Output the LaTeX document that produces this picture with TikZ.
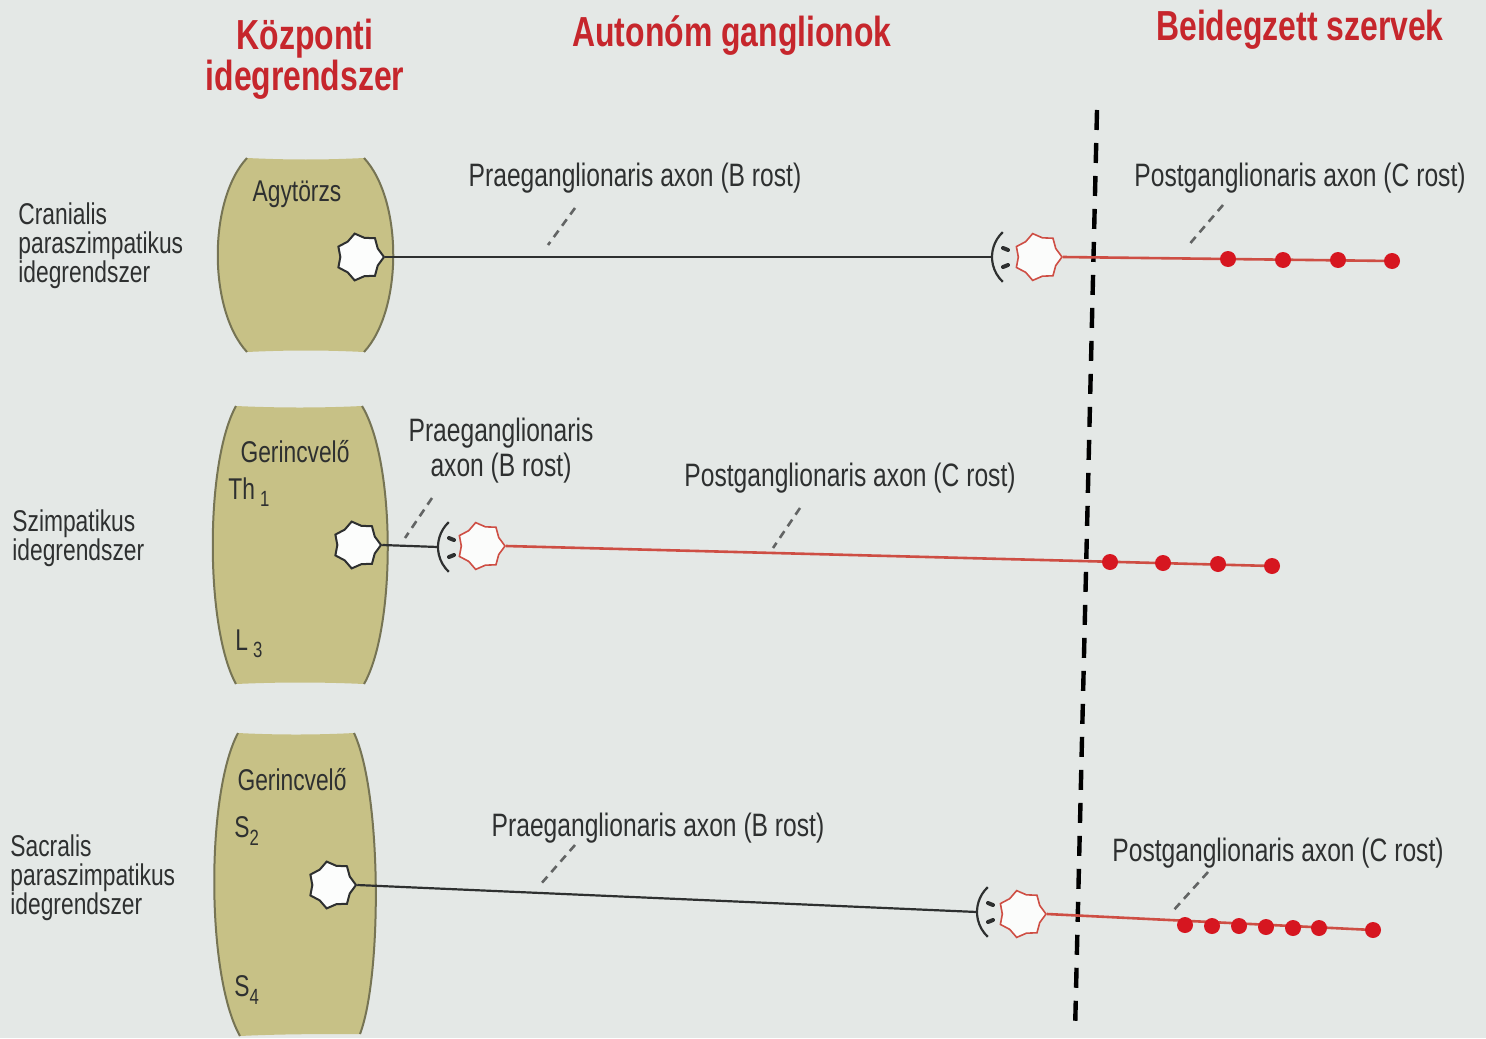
\documentclass[tikz,border=0pt]{standalone}
\usepackage{fontspec}
\setmainfont{Liberation Sans}[FakeStretch=0.76]
\usepackage{xcolor}
\definecolor{pagebg}{RGB}{228,232,230}
\definecolor{cnsfill}{RGB}{199,193,134}
\definecolor{cnsedge}{RGB}{118,116,84}
\definecolor{headred}{RGB}{198,38,44}
\definecolor{axonred}{RGB}{206,78,68}
\definecolor{dotred}{RGB}{214,22,32}
\definecolor{inkgray}{RGB}{46,48,48}
\usetikzlibrary{shapes.geometric, calc}

\begin{document}
\begin{tikzpicture}[x=0.5pt, y=-0.5pt,
  head/.style={text=headred, font=\fontsize{21}{19}\selectfont\bfseries, align=center, inner sep=0pt},
  lbl/.style={text=inkgray, font=\fontsize{16.2}{17.5}\selectfont, align=center, inner sep=0pt},
  side/.style={text=inkgray, font=\fontsize{15}{14.5}\selectfont, align=left, anchor=west, inner sep=0pt},
  cnslbl/.style={text=inkgray, font=\fontsize{15}{15}\selectfont, inner sep=0pt},
  seg/.style={cnslbl, anchor=west},
  precell/.style={star, star points=7, star point ratio=1.22, shape border rotate=-90,
                  minimum size=24pt, inner sep=0pt, draw=inkgray, fill=white!90!pagebg, line width=1pt},
  postcell/.style={precell, draw=axonred, line width=0.8pt, fill=white!85!pagebg},
  preaxon/.style={draw=inkgray, line width=1.1pt},
  postaxon/.style={draw=axonred, line width=1.3pt},
  bouton/.style={draw=inkgray, line width=2pt, line cap=round},
  dot/.style={circle, fill=dotred, minimum size=8pt, inner sep=0pt},
  leader/.style={draw=inkgray!75, line width=1.3pt, dash pattern=on 4pt off 3pt},
  divider/.style={draw=black, line width=2.2pt, dash pattern=on 10pt off 6.5pt},
  cnsside/.style={draw=cnsedge, line width=1pt}
]
\useasboundingbox (0,0) rectangle (1486,1038);
\fill[pagebg] (0,0) rectangle (1486,1038);

% --- column headings ---
\node[head] (hcns) at (305,59) {Központi\\idegrendszer};
\node[head] (hgang) at (732,36) {Autonóm ganglionok};
\node[head] (horg) at (1300,30) {Beidegzett szervek};

% --- central nervous system blocks ---
\fill[cnsfill] (247,158) .. controls (208,200) and (208,310) .. (247,352)
  .. controls (290,350) and (322,350) .. (364,352)
  .. controls (403,310) and (403,200) .. (364,158)
  .. controls (322,160) and (290,160) .. cycle;
\draw[cnsside] (247,158) .. controls (208,200) and (208,310) .. (247,352);
\draw[cnsside] (364,352) .. controls (403,310) and (403,200) .. (364,158);

\fill[cnsfill] (236,406) .. controls (205,462) and (205,628) .. (236,684)
  .. controls (280,682) and (320,682) .. (364,684)
  .. controls (396,628) and (396,462) .. (362,406)
  .. controls (320,408) and (280,408) .. cycle;
\draw[cnsside] (236,406) .. controls (205,462) and (205,628) .. (236,684);
\draw[cnsside] (364,684) .. controls (396,628) and (396,462) .. (362,406);

\fill[cnsfill] (238,733) .. controls (206,793) and (206,976) .. (240,1036)
  .. controls (280,1034) and (320,1034) .. (360,1034)
  .. controls (382,976) and (382,793) .. (354,733)
  .. controls (315,735) and (277,735) .. cycle;
\draw[cnsside] (238,733) .. controls (206,793) and (206,976) .. (240,1036);
\draw[cnsside] (360,1034) .. controls (382,976) and (382,793) .. (354,733);

\node[cnslbl] (agy) at (297,194) {Agytörzs};
\node[cnslbl] (ger1) at (295,452) {Gerincvelő};
\node[seg] (th1) at (228,492) {Th\,\raisebox{-0.45ex}{\fontsize{11}{11}\selectfont 1}};
\node[seg] (l3) at (235,644) {L\,\raisebox{-0.45ex}{\fontsize{11}{11}\selectfont 3}};
\node[cnslbl] (ger2) at (292,780) {Gerincvelő};
\node[seg] (s2) at (234,831) {S\raisebox{-0.45ex}{\fontsize{11}{11}\selectfont 2}};
\node[seg] (s4) at (234,990) {S\raisebox{-0.45ex}{\fontsize{11}{11}\selectfont 4}};

% --- system names on the left ---
\node[side] (cran) at (18,246) {Cranialis\\paraszimpatikus\\idegrendszer};
\node[side] (szimp) at (12,538) {Szimpatikus\\idegrendszer};
\node[side] (sacr) at (10,878) {Sacralis\\paraszimpatikus\\idegrendszer};

% organ boundary
\coordinate (divtop) at (1097,110);
\coordinate (divbot) at (1075,1032);
\draw[divider] (divtop) -- (divbot);

% --- cranial parasympathetic pathway ---
\node[precell] (c1) at (360,257) {};
\coordinate (t1) at (992,257);
\draw[preaxon] (c1.east) -- (t1);
\draw[preaxon] ($(t1)+(10.8,-24.9)$) arc[start angle=227, end angle=133, radius=34];
\draw[bouton] ($(t1)+(11,-9)$) -- ($(t1)+(16,-7)$);
\draw[bouton] ($(t1)+(11,10)$) -- ($(t1)+(16,8)$);
\node[postcell] (g1) at (1038,257) {};
\coordinate (e1) at (1392,261);
\draw[postaxon] (g1.east) -- (e1);
\foreach \x/\y [count=\i] in {1228/259, 1283/260, 1338/260, 1392/261}
  \node[dot] (d1\i) at (\x,\y) {};
\node[lbl] (pre1) at (635,178) {Praeganglionaris axon (B rost)};
\node[lbl] (post1) at (1300,178) {Postganglionaris axon (C rost)};
\draw[leader] (575,208) -- (548,245);
\draw[leader] (1223,205) -- (1187,247);

% --- sympathetic pathway ---
\node[precell] (c2) at (357,545) {};
\coordinate (t2) at (438,547);
\draw[preaxon] (c2.east) -- (t2);
\draw[preaxon] ($(t2)+(10.8,-24.9)$) arc[start angle=227, end angle=133, radius=34];
\draw[bouton] ($(t2)+(11,-9)$) -- ($(t2)+(16,-7)$);
\draw[bouton] ($(t2)+(11,10)$) -- ($(t2)+(16,8)$);
\node[postcell] (g2) at (481,546) {};
\coordinate (e2) at (1272,566);
\draw[postaxon] (g2.east) -- (e2);
\foreach \x/\y [count=\i] in {1110/562, 1163/563, 1218/564, 1272/566}
  \node[dot] (d2\i) at (\x,\y) {};
\node[lbl] (pre2) at (501,451) {Praeganglionaris\\axon (B rost)};
\node[lbl] (post2) at (850,478) {Postganglionaris axon (C rost)};
\draw[leader] (432,498) -- (405,538);
\draw[leader] (800,508) -- (773,548);

% --- sacral parasympathetic pathway ---
\node[precell] (c3) at (332,885) {};
\coordinate (t3) at (977,912);
\draw[preaxon] (c3.east) -- (t3);
\draw[preaxon] ($(t3)+(10.8,-24.9)$) arc[start angle=227, end angle=133, radius=34];
\draw[bouton] ($(t3)+(11,-9)$) -- ($(t3)+(16,-7)$);
\draw[bouton] ($(t3)+(11,10)$) -- ($(t3)+(16,8)$);
\node[postcell] (g3) at (1022,914) {};
\coordinate (e3) at (1373,930);
\draw[postaxon] (g3.east) -- (e3);
\foreach \x/\y [count=\i] in {1185/925, 1212/926, 1239/926, 1266/927, 1293/928, 1319/928, 1373/930}
  \node[dot] (d3\i) at (\x,\y) {};
\node[lbl] (pre3) at (658,828) {Praeganglionaris axon (B rost)};
\node[lbl] (post3) at (1278,853) {Postganglionaris axon (C rost)};
\draw[leader] (575,845) -- (540,885);
\draw[leader] (1208,872) -- (1172,912);

\end{tikzpicture}
\end{document}
